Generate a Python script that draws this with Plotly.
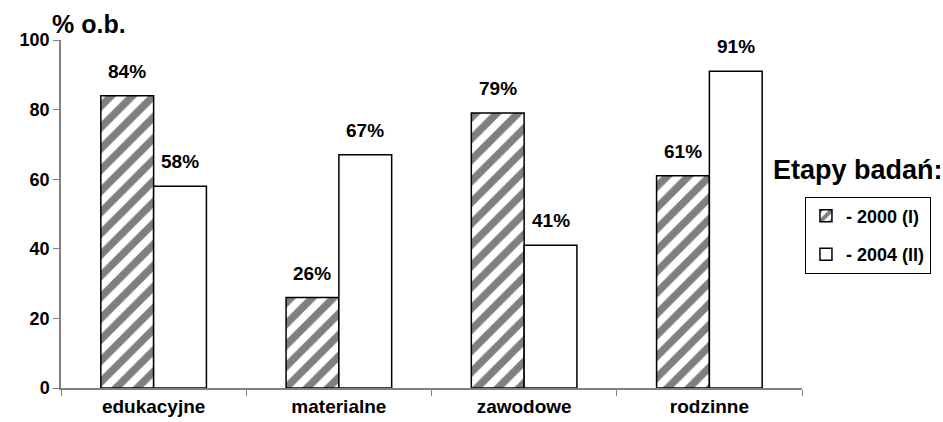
import plotly.graph_objects as go

categories = ["edukacyjne", "materialne", "zawodowe", "rodzinne"]
values_2000 = [84, 26, 79, 61]
values_2004 = [58, 67, 41, 91]
series_names = ["- 2000 (I)", "- 2004 (II)"]
y_ticks = [0, 20, 40, 60, 80, 100]

FONT = "Liberation Sans, Arial, sans-serif"

# plot area geometry (pixels) used to place the value labels over each bar
WIDTH, HEIGHT = 943, 422
MARGIN = dict(l=61, r=139, t=40, b=34)
BARGAP = 0.43
plot_w = WIDTH - MARGIN["l"] - MARGIN["r"]
bar_w = plot_w / len(categories) * (1 - BARGAP) / 2

fig = go.Figure()
fig.add_trace(go.Bar(
    x=categories, y=values_2000, name=f"<b>{series_names[0]}</b>",
    legendgroup="a",
    marker=dict(color="white", line=dict(color="black", width=1.5),
                pattern=dict(shape="/", fgcolor="black", bgcolor="white",
                             size=15, solidity=0.5)),
))
fig.add_trace(go.Bar(
    x=categories, y=values_2004, name=f"<b>{series_names[1]}</b>",
    legendgroup="b",
    marker=dict(color="white", line=dict(color="black", width=1.5)),
))

annotations = []
for vals, shift in ((values_2000, -bar_w / 2), (values_2004, bar_w / 2)):
    for cat, v in zip(categories, vals):
        annotations.append(dict(
            x=cat, y=v, xref="x", yref="y", text=f"<b>{v}%</b>",
            xanchor="center", yanchor="bottom", xshift=shift, yshift=12,
            showarrow=False, font=dict(family=FONT, size=19, color="black")))

annotations += [
    dict(text="<b>% o.b.</b>", x=0, y=1, xref="paper", yref="paper",
         xanchor="left", yanchor="bottom", xshift=-11, yshift=0,
         showarrow=False, font=dict(family=FONT, size=25, color="black")),
    dict(text="<b>Etapy badań:</b>", x=1.0, y=0.626, xref="paper",
         yref="paper", xanchor="left", yanchor="middle", xshift=-31,
         showarrow=False, font=dict(family=FONT, size=27, color="black")),
]

fig.update_layout(
    width=WIDTH, height=HEIGHT,
    margin=MARGIN,
    paper_bgcolor="white", plot_bgcolor="white",
    barmode="group", bargap=BARGAP, bargroupgap=0,
    font=dict(family=FONT, color="black"),
    showlegend=True,
    legend=dict(x=1.004, y=0.55, xanchor="left", yanchor="top",
                bordercolor="black", borderwidth=1, bgcolor="white",
                font=dict(family=FONT, size=18, color="black"),
                itemwidth=30, tracegroupgap=12),
    xaxis=dict(showline=True, linecolor="#808080", linewidth=1.5,
               ticks="outside", tickson="boundaries", ticklen=6,
               tickcolor="#808080", automargin=False,
               tickvals=categories,
               ticktext=[f"<b>{c}</b>" for c in categories],
               tickfont=dict(family=FONT, size=19, color="black"),
               showgrid=False),
    yaxis=dict(range=[0, 100], tickvals=y_ticks,
               ticktext=[f"<b>{v}</b>" for v in y_ticks],
               showline=True, linecolor="#808080", linewidth=1.5,
               ticks="outside", ticklen=6, tickcolor="#808080",
               showgrid=False, zeroline=False, automargin=False,
               tickfont=dict(family=FONT, size=18, color="black")),
    annotations=annotations,
)

fig.write_html("out.html")
